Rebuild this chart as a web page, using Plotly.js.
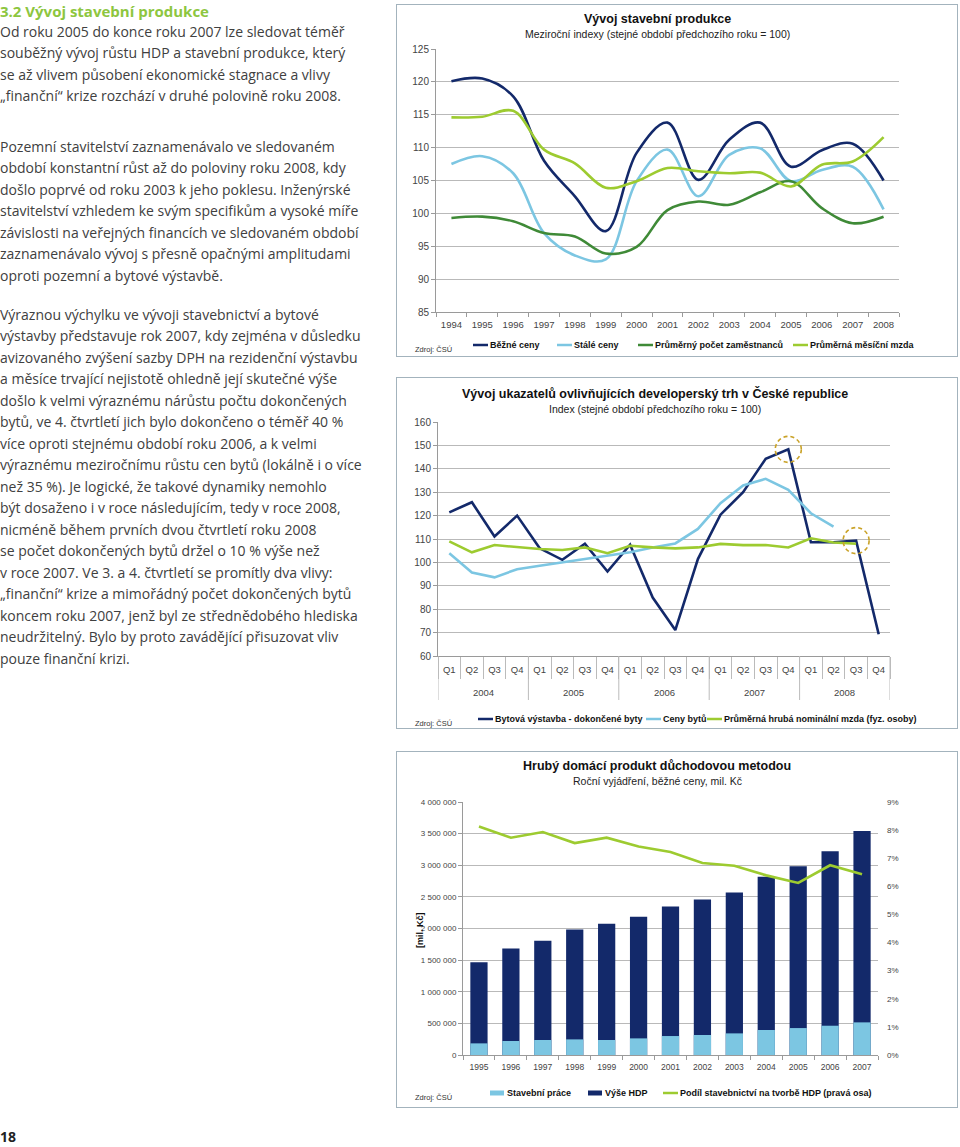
<!DOCTYPE html>
<html lang="cs"><head><meta charset="utf-8">
<script src="https://cdn.plot.ly/plotly-3.0.1.min.js"></script>
<style>
html,body{margin:0;padding:0;background:#fff;}
body{width:960px;height:1147px;position:relative;overflow:hidden;}
#txt{position:absolute;left:0;top:0;width:390px;font-family:"Open Sans","Noto Sans",sans-serif;color:#404040;}
#txt h2{position:absolute;left:0;top:0;margin:0;font-size:15px;line-height:22px;color:#8dc63f;font-weight:700;white-space:nowrap;}
.para{position:absolute;left:0;font-size:14px;line-height:21.5px;white-space:nowrap;}
.box{position:absolute;left:396px;width:560px;border:1px solid #a3b3bd;background:#fff;}
#pg{position:absolute;left:0;top:1127px;font:700 14px "Open Sans",sans-serif;color:#222;}
</style></head><body>
<div id="txt">
<h2>3.2 Vývoj stavební produkce</h2>
<div class="para" style="top:20.75px">Od roku 2005 do konce roku 2007 lze sledovat téměř<br>souběžný vývoj růstu HDP a stavební produkce, který<br>se až vlivem působení ekonomické stagnace a vlivy<br>„finanční“ krize rozchází v druhé polovině roku 2008.</div>
<div class="para" style="top:135.75px">Pozemní stavitelství zaznamenávalo ve sledovaném<br>období konstantní růst až do poloviny roku 2008, kdy<br>došlo poprvé od roku 2003 k jeho poklesu. Inženýrské<br>stavitelství vzhledem ke svým specifikům a vysoké míře<br>závislosti na veřejných financích ve sledovaném období<br>zaznamenávalo vývoj s přesně opačnými amplitudami<br>oproti pozemní a bytové výstavbě.</div>
<div class="para" style="top:303.75px">Výraznou výchylku ve vývoji stavebnictví a bytové<br>výstavby představuje rok 2007, kdy zejména v důsledku<br>avizovaného zvýšení sazby DPH na rezidenční výstavbu<br>a měsíce trvající nejistotě ohledně její skutečné výše<br>došlo k velmi výraznému nárůstu počtu dokončených<br>bytů, ve 4. čtvrtletí jich bylo dokončeno o téměř 40 %<br>více oproti stejnému období roku 2006, a k velmi<br>výraznému meziročnímu růstu cen bytů (lokálně i o více<br>než 35 %). Je logické, že takové dynamiky nemohlo<br>být dosaženo i v roce následujícím, tedy v roce 2008,<br>nicméně během prvních dvou čtvrtletí roku 2008<br>se počet dokončených bytů držel o 10 % výše než<br>v roce 2007. Ve 3. a 4. čtvrtletí se promítly dva vlivy:<br>„finanční“ krize a mimořádný počet dokončených bytů<br>koncem roku 2007, jenž byl ze střednědobého hlediska<br>neudržitelný. Bylo by proto zavádějící přisuzovat vliv<br>pouze finanční krizi.</div>
</div>
<div class="box" style="top:4px;height:351px"><div id="c1" style="width:560px;height:351px"></div></div>
<div class="box" style="top:377px;height:350px"><div id="c2" style="width:560px;height:350px"></div></div>
<div class="box" style="top:751px;height:355px"><div id="c3" style="width:560px;height:355px"></div></div>
<div id="pg">18</div>
<script>
// ---------- DATA ----------
// Chart 1: Vývoj stavební produkce (meziroční indexy)
const years1 = ['1994','1995','1996','1997','1998','1999','2000','2001','2002','2003','2004','2005','2006','2007','2008'];
const bezneCeny   = [120.1,120.5,117.8,108.0,102.6,97.3,109.2,113.8,105.1,111.2,113.8,107.1,109.6,110.6,105.0];
const staleCeny   = [107.5,108.7,106.1,97.0,93.6,93.0,104.9,109.7,102.6,108.9,109.9,104.9,106.6,107.1,100.6];
const zamestnanci = [99.3,99.5,98.8,97.0,96.5,93.9,94.9,100.5,101.8,101.3,103.2,104.9,100.8,98.5,99.5];
const mesicniMzda = [114.6,114.7,115.6,109.7,107.6,103.9,104.9,106.9,106.4,106.1,106.2,104.1,107.4,107.9,111.6];
const names1 = ['Běžné ceny','Stálé ceny','Průměrný počet zaměstnanců','Průměrná měsíční mzda'];

// Chart 2: Vývoj ukazatelů ovlivňujících developerský trh (čtvrtletí)
const qYears = ['2004','2004','2004','2004','2005','2005','2005','2005','2006','2006','2006','2006','2007','2007','2007','2007','2008','2008','2008','2008'];
const qQuarters = ['Q1','Q2','Q3','Q4','Q1','Q2','Q3','Q4','Q1','Q2','Q3','Q4','Q1','Q2','Q3','Q4','Q1','Q2','Q3','Q4'];
const dokonceneByty = [121.4,125.7,111.1,120.0,106.0,101.1,108.0,96.1,107.6,85.0,71.1,101.4,120.4,130.0,144.3,148.3,108.6,108.6,109.3,69.3];
const cenyBytu      = [103.9,95.7,93.6,97.1,98.6,100.0,101.4,102.6,104.3,106.4,108.1,114.3,125.3,132.9,135.7,131.0,121.0,115.3,null,null];
const hrubaMzda     = [109.0,104.3,107.4,106.4,105.7,105.3,106.4,103.9,107.1,106.4,106.0,106.4,107.9,107.4,107.4,106.4,110.3,108.5,108.0,null];
const names2 = ['Bytová výstavba - dokončené byty','Ceny bytů','Průměrná hrubá nominální mzda (fyz. osoby)'];
const highlightIdx = [15,18];   // zvýrazněná čtvrtletí (kroužky)

// Chart 3: Hrubý domácí produkt důchodovou metodou
const years3 = ['1995','1996','1997','1998','1999','2000','2001','2002','2003','2004','2005','2006','2007'];
const vyseHDP = [1466000,1683000,1805000,1984000,2074000,2185000,2349000,2460000,2571000,2820000,2984000,3222000,3540000];
const stavebniPrace = [184000,221000,237000,247000,237000,263000,300000,316000,342000,395000,426000,463000,516000];
const podilStav = [0.0813,0.0773,0.0793,0.0754,0.0773,0.0742,0.0722,0.0683,0.0673,0.0639,0.0612,0.0675,0.0643];
const names3 = ['Stavební práce','Výše HDP','Podíl stavebnictví na tvorbě HDP (pravá osa)'];

// ---------- STYLE ----------
const FONT = 'Liberation Sans, Arial, sans-serif';
const GRID = '#b9b9b9', AX = '#9a9a9a', TC = '#444';
const NAVY = '#13296a', LBLUE = '#7cc6e2', DGREEN = '#3f8a37', LGREEN = '#9dcb30';
const CFG = {staticPlot:true, displayModeBar:false};

function conv(W,H,m){const pw=W-m.l-m.r, ph=H-m.t-m.b; return {pw,ph,x:p=>(p-m.l)/pw, y:p=>1-(p-m.t)/ph};}
function deco(W,H,m,t,leg){
  const c=conv(W,H,m), shapes=[], ann=[];
  ann.push({text:'<b>'+t.main+'</b>',x:c.x(t.cx),y:c.y(t.y1),xref:'paper',yref:'paper',xanchor:'center',yanchor:'middle',showarrow:false,font:{family:FONT,size:12.5,color:'#111'}});
  ann.push({text:t.sub,x:c.x(t.cx),y:c.y(t.y2),xref:'paper',yref:'paper',xanchor:'center',yanchor:'middle',showarrow:false,font:{family:FONT,size:10.5,color:'#222'}});
  ann.push({text:'Zdroj: ČSÚ',x:c.x(16),y:c.y(leg.zy),xref:'paper',yref:'paper',xanchor:'left',yanchor:'middle',showarrow:false,font:{family:FONT,size:7.5,color:'#333'}});
  leg.items.forEach(it=>{
    if(it.kind==='box'){
      shapes.push({type:'rect',xref:'paper',yref:'paper',x0:c.x(it.x0),x1:c.x(it.x0+14),y0:c.y(leg.y+2.5),y1:c.y(leg.y-2.5),fillcolor:it.color,line:{width:0}});
    } else {
      shapes.push({type:'line',xref:'paper',yref:'paper',x0:c.x(it.x0),x1:c.x(it.x0+15),y0:c.y(leg.y),y1:c.y(leg.y),line:{color:it.color,width:2.5}});
    }
    ann.push({text:'<b>'+it.name+'</b>',x:c.x(it.x0+15),y:c.y(leg.y),xref:'paper',yref:'paper',xanchor:'left',yanchor:'middle',showarrow:false,font:{family:FONT,size:9,color:'#111'}});
  });
  return {shapes,ann,c};
}
function yax(extra){return Object.assign({showgrid:true,gridcolor:GRID,gridwidth:1,showline:true,linecolor:AX,ticks:'outside',ticklen:4,tickcolor:AX,zeroline:false,tickfont:{family:FONT,size:10,color:TC}},extra);}

// ---------- CHART 1 ----------
(function(){
  const W=560,H=351,m={l:39,r:58,t:44,b:44};
  const cols=[NAVY,LBLUE,DGREEN,LGREEN], series=[bezneCeny,staleCeny,zamestnanci,mesicniMzda];
  const traces=series.map((s,i)=>({type:'scatter',mode:'lines',x:years1,y:s,name:names1[i],line:{color:cols[i],width:2.6,shape:'spline',smoothing:1},showlegend:false}));
  const legX=[76,160,241,396];
  const d=deco(W,H,m,{main:'Vývoj stavební produkce',sub:'Meziroční indexy (stejné období předchozího roku = 100)',cx:260,y1:14,y2:29},
    {y:340,zy:344,items:names1.map((n,i)=>({name:n,color:cols[i],x0:legX[i]}))});
  Plotly.newPlot('c1',traces,{width:W,height:H,margin:m,paper_bgcolor:'#fff',plot_bgcolor:'#fff',
    xaxis:{type:'category',range:[-0.5,years1.length-0.5],tickangle:0,tickson:'boundaries',ticks:'outside',ticklen:4,tickcolor:AX,showline:true,linecolor:AX,showgrid:false,ticklabelstandoff:4,tickfont:{family:FONT,size:9.5,color:TC}},
    yaxis:yax({range:[85,125],dtick:5}),
    shapes:d.shapes,annotations:d.ann},CFG);
})();

// ---------- CHART 2 ----------
(function(){
  const W=560,H=350,m={l:41,r:67,t:44,b:72};
  const yr=[60,160];
  const keys=qYears.map((y,i)=>y+' '+qQuarters[i]);
  const cols=[NAVY,LBLUE,LGREEN], series=[dokonceneByty,cenyBytu,hrubaMzda];
  const traces=series.map((s,i)=>({type:'scatter',mode:'lines',x:keys,y:s,name:names2[i],line:{color:cols[i],width:2.6},showlegend:false}));
  const legX=[81,249,310];
  const d=deco(W,H,m,{main:'Vývoj ukazatelů ovlivňujících developerský trh v České republice',sub:'Index (stejné období předchozího roku = 100)',cx:258,y1:16,y2:31},
    {y:341,zy:345,items:names2.map((n,i)=>({name:n,color:cols[i],x0:legX[i]}))});
  const c=d.c;
  // year group labels and dividers
  const uniqYears=[...new Set(qYears)];
  uniqYears.forEach(y=>{
    const idx=qYears.map((v,i)=>v===y?i:-1).filter(i=>i>=0);
    const mid=(idx[0]+idx[idx.length-1])/2;
    d.ann.push({text:y,x:mid,xref:'x',y:c.y(314),yref:'paper',xanchor:'center',yanchor:'middle',showarrow:false,font:{family:FONT,size:9.5,color:TC}});
    d.shapes.push({type:'line',xref:'x',yref:'paper',x0:idx[0]-0.5,x1:idx[0]-0.5,y0:0,y1:c.y(322),line:{color:'#bbb',width:1}});
  });
  d.shapes.push({type:'line',xref:'x',yref:'paper',x0:qYears.length-0.5,x1:qYears.length-0.5,y0:0,y1:c.y(322),line:{color:'#bbb',width:1}});
  // highlight circles
  highlightIdx.forEach(i=>{
    const cx=(i+0.5)/qYears.length, cy=(dokonceneByty[i]-yr[0])/(yr[1]-yr[0]);
    const rx=13/c.pw, ry=13/c.ph;
    d.shapes.push({type:'circle',xref:'paper',yref:'paper',x0:cx-rx,x1:cx+rx,y0:cy-ry,y1:cy+ry,line:{color:'#c9a227',width:1.6,dash:'4px,3px'}});
  });
  Plotly.newPlot('c2',traces,{width:W,height:H,margin:m,paper_bgcolor:'#fff',plot_bgcolor:'#fff',
    xaxis:{type:'category',range:[-0.5,keys.length-0.5],tickvals:keys,ticktext:qQuarters,tickangle:0,tickson:'boundaries',ticks:'outside',ticklen:22,ticklabelstandoff:5,tickcolor:'#bbb',showline:true,linecolor:AX,showgrid:false,tickfont:{family:FONT,size:9.5,color:TC}},
    yaxis:yax({range:yr,dtick:10}),
    shapes:d.shapes,annotations:d.ann},CFG);
})();

// ---------- CHART 3 ----------
(function(){
  const W=560,H=355,m={l:66,r:79,t:50,b:52};
  const traces=[
    {type:'bar',x:years3,y:vyseHDP,name:names3[1],marker:{color:NAVY},showlegend:false},
    {type:'bar',x:years3,y:stavebniPrace,name:names3[0],marker:{color:LBLUE},showlegend:false},
    {type:'scatter',mode:'lines',x:years3,y:podilStav,yaxis:'y2',name:names3[2],line:{color:LGREEN,width:2.6},showlegend:false}
  ];
  const d=deco(W,H,m,{main:'Hrubý domácí produkt důchodovou metodou',sub:'Roční vyjádření, běžné ceny, mil. Kč',cx:260,y1:14,y2:29},
    {y:341,zy:345,items:[{name:names3[0],color:LBLUE,x0:93,kind:'box'},{name:names3[1],color:NAVY,x0:191,kind:'box'},{name:names3[2],color:LGREEN,x0:266}]});
  d.ann.push({text:'<b>[mil. Kč]</b>',x:d.c.x(23),y:d.c.y(178),xref:'paper',yref:'paper',textangle:-90,xanchor:'center',yanchor:'middle',showarrow:false,font:{family:FONT,size:9,color:'#111'}});
  Plotly.newPlot('c3',traces,{width:W,height:H,margin:m,paper_bgcolor:'#fff',plot_bgcolor:'#fff',separators:', ',
    barmode:'overlay',bargap:0.46,
    xaxis:{type:'category',tickangle:0,tickson:'boundaries',ticks:'outside',ticklen:4,tickcolor:AX,showline:true,linecolor:AX,showgrid:false,ticklabelstandoff:4,tickfont:{family:FONT,size:8.5,color:TC}},
    yaxis:yax({range:[0,4000000],dtick:500000,tickformat:',d',tickfont:{family:FONT,size:8,color:TC}}),
    yaxis2:{overlaying:'y',side:'right',range:[0,0.09],dtick:0.01,tickformat:'.0%',showgrid:false,zeroline:false,showline:false,ticks:'',ticklabelstandoff:8,tickfont:{family:FONT,size:8,color:TC}},
    shapes:d.shapes,annotations:d.ann},CFG);
})();
</script>
</body></html>
